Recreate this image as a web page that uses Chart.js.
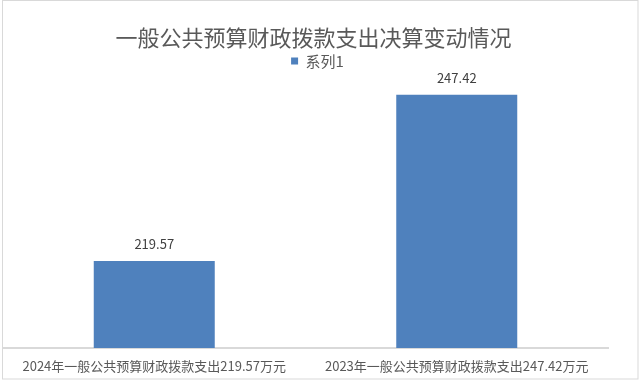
<!DOCTYPE html>
<html lang="zh-CN">
<head>
<meta charset="UTF-8">
<title>一般公共预算财政拨款支出决算变动情况</title>
<script src="https://cdn.jsdelivr.net/npm/chart.js"></script>
<style>
    html, body { margin: 0; padding: 0; background: #fff; }
    .grafico { width: 640px; height: 381px; position: relative; }
</style>
</head>
<body>
<div class="grafico">
    <canvas id="grafico-despesas"></canvas>
</div>
<script>
    // dados
    const categorias = ['2024年一般公共预算财政拨款支出219.57万元', '2023年一般公共预算财政拨款支出247.42万元'];
    const valores = [219.57, 247.42];
    const nomeSerie = '系列1';
    const eixoMin = 205;
    const eixoMax = 250;

    const fonteCJK = '"Noto Sans CJK SC", "Liberation Sans", sans-serif';

    // moldura cinza em volta do gráfico + ajustes de posição do título/legenda
    const moldura = {
        id: 'moldura',
        beforeInit(chart) {
            // um pouco mais de espaço abaixo da legenda
            const fitOriginal = chart.legend.fit;
            chart.legend.fit = function () {
                fitOriginal.bind(chart.legend)();
                this.height += 1;
            };
        },
        afterLayout(chart) {
            // no original o título e a legenda ficam um pouco à direita
            chart.titleBlock.left += 8;
            chart.titleBlock.right += 8;
            chart.legend.left += 12;
            chart.legend.right += 12;
        },
        beforeDraw(chart) {
            const ctx = chart.ctx;
            ctx.save();
            ctx.fillStyle = '#fff';
            ctx.fillRect(0, 0, chart.width, chart.height);
            ctx.strokeStyle = '#d9d9d9';
            ctx.lineWidth = 1;
            ctx.strokeRect(2.5, 0.5, 635.5, 378.5);
            ctx.restore();
        }
    };

    // rótulos de valor em cima das barras
    const rotulos = {
        id: 'rotulos',
        afterDatasetsDraw(chart) {
            const ctx = chart.ctx;
            const meta = chart.getDatasetMeta(0);
            ctx.save();
            ctx.font = '13px ' + fonteCJK;
            ctx.fillStyle = '#404040';
            ctx.textAlign = 'center';
            ctx.textBaseline = 'middle';
            meta.data.forEach((barra, i) => {
                ctx.fillText(valores[i].toFixed(2), barra.x, barra.y - 17);
            });
            ctx.restore();
        }
    };

    new Chart(document.getElementById('grafico-despesas'), {
        type: 'bar',
        data: {
            labels: categorias,
            datasets: [{
                label: nomeSerie,
                data: valores,
                backgroundColor: '#4f81bd',
                borderWidth: 0,
                barPercentage: 0.4,
                categoryPercentage: 1
            }]
        },
        options: {
            responsive: true,
            maintainAspectRatio: false,
            animation: false,
            layout: {
                padding: { left: 3, right: 32, top: 24, bottom: 3 }
            },
            plugins: {
                title: {
                    display: true,
                    text: '一般公共预算财政拨款支出决算变动情况',
                    color: '#595959',
                    font: { family: fonteCJK, size: 22, weight: 'normal' },
                    padding: { top: 0, bottom: 0 }
                },
                legend: {
                    display: true,
                    labels: {
                        color: '#595959',
                        font: { family: fonteCJK, size: 15 },
                        boxWidth: 7,
                        boxHeight: 7,
                        padding: 3
                    }
                },
                tooltip: { enabled: false }
            },
            scales: {
                x: {
                    grid: { display: false, drawTicks: false },
                    border: { display: true, color: '#d9d9d9', width: 2 },
                    afterFit(escala) {
                        escala.height = 30;
                    },
                    ticks: {
                        color: '#595959',
                        font: { family: fonteCJK, size: 13 },
                        padding: 10,
                        maxRotation: 0,
                        autoSkip: false
                    }
                },
                y: {
                    display: false,
                    min: eixoMin,
                    max: eixoMax
                }
            }
        },
        plugins: [moldura, rotulos]
    });
</script>
</body>
</html>
